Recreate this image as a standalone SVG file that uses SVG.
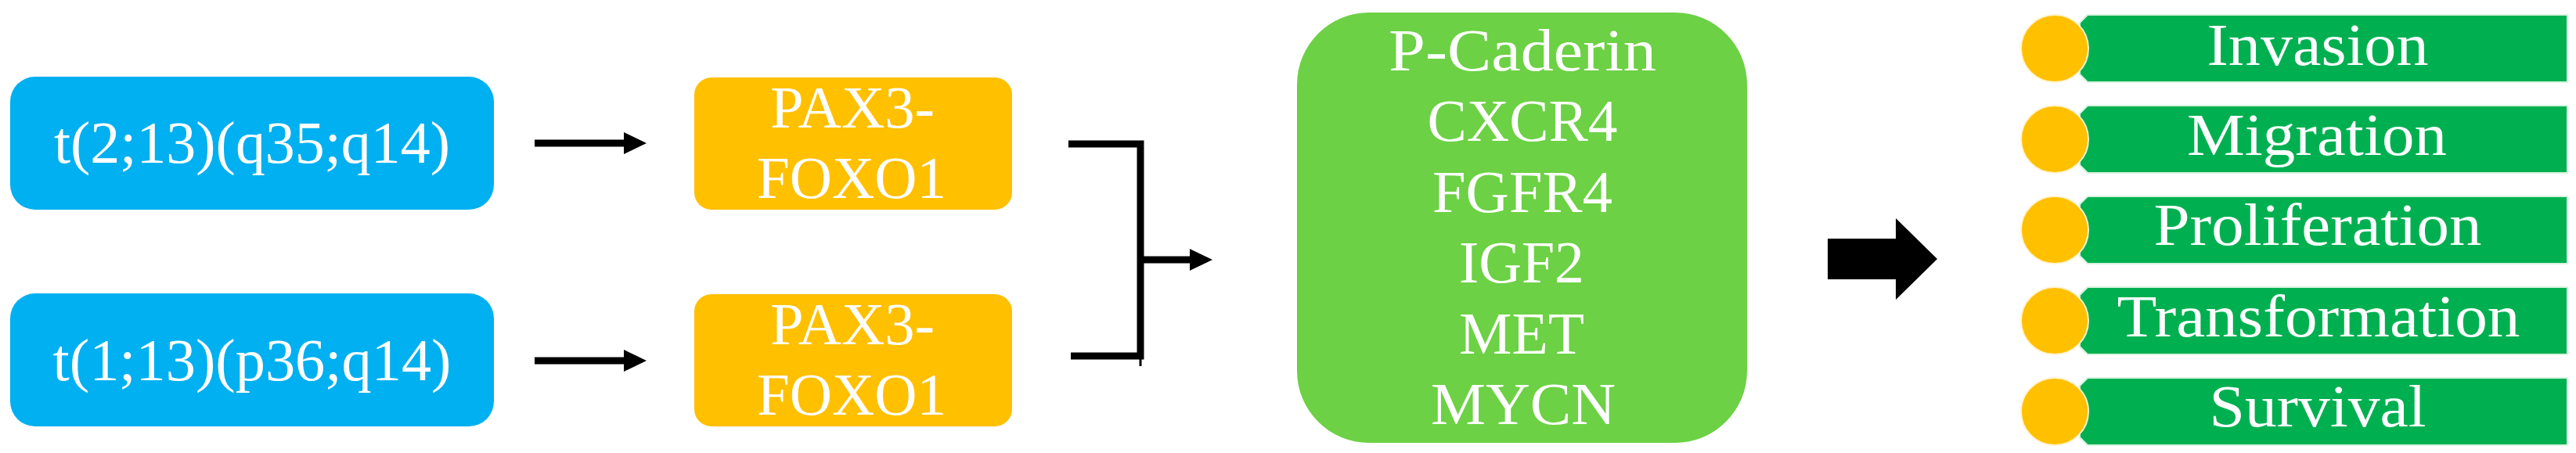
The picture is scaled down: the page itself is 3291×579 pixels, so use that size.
<svg xmlns="http://www.w3.org/2000/svg" width="3291" height="579" viewBox="0 0 3291 579">
<style>
  .t { font-family: "Liberation Serif", "Times New Roman", serif; font-size: 76px; fill: #ffffff; text-anchor: middle; }
  .blue { fill: #00b0f0; }
  .orange { fill: #ffc000; }
  .gbox { fill: #6cd144; }
  .bar { fill: #00b050; stroke: #d6f2df; stroke-width: 2; }
  .dot { fill: #ffc000; stroke: #fff3cf; stroke-width: 2; }
  .conn { stroke: #000000; fill: none; stroke-width: 9; }
</style>
<defs>
  <marker id="ah" markerUnits="userSpaceOnUse" markerWidth="30" markerHeight="30" refX="0" refY="14" orient="auto">
    <path d="M0,0 L29,14 L0,28 Z" fill="#000000"/>
  </marker>
</defs>
<rect width="3291" height="579" fill="#ffffff"/>

<g id="node-t213">
  <rect class="blue" x="13" y="98" width="618" height="170" rx="32" ry="32"/>
  <text class="t" x="322" y="208" textLength="506" lengthAdjust="spacingAndGlyphs">t(2;13)(q35;q14)</text>
</g>
<g id="node-t113">
  <rect class="blue" x="13" y="375" width="618" height="170" rx="32" ry="32"/>
  <text class="t" x="322" y="486" textLength="509" lengthAdjust="spacingAndGlyphs">t(1;13)(p36;q14)</text>
</g>
<g id="node-pax3-foxo1-a">
  <rect class="orange" x="887" y="99" width="406" height="169" rx="22" ry="22"/>
  <text class="t" x="1089" y="163" textLength="210" lengthAdjust="spacingAndGlyphs">PAX3-</text>
  <text class="t" x="1088" y="253" textLength="242" lengthAdjust="spacingAndGlyphs">FOXO1</text>
</g>
<g id="node-pax3-foxo1-b">
  <rect class="orange" x="887" y="376" width="406" height="169" rx="22" ry="22"/>
  <text class="t" x="1089" y="440" textLength="210" lengthAdjust="spacingAndGlyphs">PAX3-</text>
  <text class="t" x="1088" y="530" textLength="242" lengthAdjust="spacingAndGlyphs">FOXO1</text>
</g>
<g id="node-targets">
  <rect class="gbox" x="1657" y="16" width="575" height="550" rx="92" ry="92"/>
  <text class="t" x="1945" y="90" textLength="342" lengthAdjust="spacingAndGlyphs">P-Caderin</text>
  <text class="t" x="1945" y="180" textLength="243" lengthAdjust="spacingAndGlyphs">CXCR4</text>
  <text class="t" x="1945" y="271" textLength="230" lengthAdjust="spacingAndGlyphs">FGFR4</text>
  <text class="t" x="1944" y="361" textLength="160" lengthAdjust="spacingAndGlyphs">IGF2</text>
  <text class="t" x="1944" y="452" textLength="160" lengthAdjust="spacingAndGlyphs">MET</text>
  <text class="t" x="1946" y="542" textLength="236" lengthAdjust="spacingAndGlyphs">MYCN</text>
</g>

<g id="connectors">
  <line class="conn" x1="683" y1="183" x2="797" y2="183" marker-end="url(#ah)"/>
  <line class="conn" x1="683" y1="461" x2="797" y2="461" marker-end="url(#ah)"/>
  <path class="conn" d="M1365,184 H1457 V455 H1368" stroke-linejoin="miter"/>
  <line x1="1457" y1="455" x2="1457" y2="468" stroke="#000000" stroke-width="3"/>
  <line class="conn" x1="1457" y1="332" x2="1520" y2="332" marker-end="url(#ah)"/>
  <polygon points="2335,305 2422,305 2422,279 2475,331 2422,383 2422,357 2335,357" fill="#000000"/>
</g>

<g id="node-invasion">
  <path class="bar" d="M2667,19 H3280 V105 H2667 L2657,95 V29 Z"/>
  <circle class="dot" cx="2625" cy="62" r="43"/>
  <text class="t" x="2961" y="83" textLength="283" lengthAdjust="spacingAndGlyphs">Invasion</text>
</g>
<g id="node-migration">
  <path class="bar" d="M2667,135 H3280 V221 H2667 L2657,211 V145 Z"/>
  <circle class="dot" cx="2625" cy="178" r="43"/>
  <text class="t" x="2960" y="198" textLength="332" lengthAdjust="spacingAndGlyphs">Migration</text>
</g>
<g id="node-proliferation">
  <path class="bar" d="M2667,251 H3280 V337 H2667 L2657,327 V261 Z"/>
  <circle class="dot" cx="2625" cy="294" r="43"/>
  <text class="t" x="2961" y="313" textLength="419" lengthAdjust="spacingAndGlyphs">Proliferation</text>
</g>
<g id="node-transformation">
  <path class="bar" d="M2667,367 H3280 V453 H2667 L2657,443 V377 Z"/>
  <circle class="dot" cx="2625" cy="410" r="43"/>
  <text class="t" x="2962" y="430" textLength="515" lengthAdjust="spacingAndGlyphs">Transformation</text>
</g>
<g id="node-survival">
  <path class="bar" d="M2667,483 H3280 V569 H2667 L2657,559 V493 Z"/>
  <circle class="dot" cx="2625" cy="526" r="43"/>
  <text class="t" x="2961" y="545" textLength="277" lengthAdjust="spacingAndGlyphs">Survival</text>
</g>
</svg>
